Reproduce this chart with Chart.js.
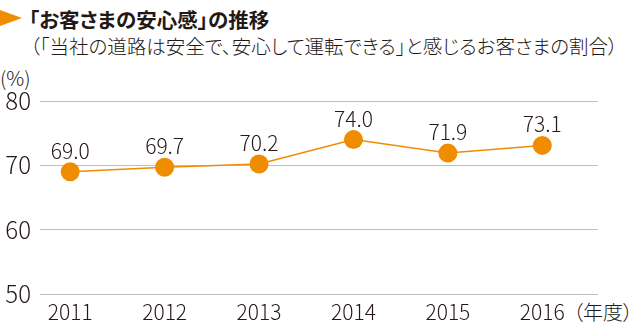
<!DOCTYPE html>
<html lang="ja">
<head>
<meta charset="utf-8">
<script src="https://cdn.jsdelivr.net/npm/chart.js@4/dist/chart.umd.min.js"></script>
<style>
  html,body{margin:0;padding:0;background:#fff;}
  body{width:641px;height:331px;position:relative;overflow:hidden;
       font-family:"Noto Sans CJK JP","Noto Sans",sans-serif;color:#231815;}
  #wrap{position:absolute;left:0;top:0;width:641px;height:331px;}
  .tri{position:absolute;left:0;top:10px;width:0;height:0;
       border-top:8px solid transparent;border-bottom:8px solid transparent;
       border-left:22px solid #f08c00;}
  .title{position:absolute;left:29px;top:4px;font-size:20.5px;font-weight:bold;
         white-space:nowrap;font-feature-settings:"palt";}
  .sub{position:absolute;left:30px;top:31px;font-size:19.5px;white-space:nowrap;
       font-weight:300;font-feature-settings:"palt";}
  .unit{position:absolute;left:0;top:63px;font-size:20px;font-weight:300;}
  .year{position:absolute;left:573px;top:297px;font-size:20px;white-space:nowrap;
        font-feature-settings:"palt";font-weight:300;}
</style>
</head>
<body>
<div class="tri"></div>
<div class="title">「お客さまの安心感」の推移</div>
<div class="sub">（「当社の道路は安全で、安心して運転できる」と感じるお客さまの割合）</div>
<div class="unit">(%)</div>
<div class="year">（年度）</div>
<div id="wrap"><canvas id="c" width="641" height="331"></canvas></div>
<script>
// 年度と安心感の割合(%)
const years = [2011, 2012, 2013, 2014, 2015, 2016];
const ratio = [69.0, 69.7, 70.2, 74.0, 71.9, 73.1];
const yTicks = [50, 60, 70, 80];

const orange = '#f08c00';
const font = '"Noto Sans CJK JP","Noto Sans",sans-serif';

// 各点の上に値を書く
const valueLabels = {
  id: 'valueLabels',
  afterDatasetsDraw(chart){
    const ctx = chart.ctx;
    const meta = chart.getDatasetMeta(0);
    ctx.save();
    ctx.font = '300 21px ' + font;
    ctx.fillStyle = '#231815';
    ctx.textAlign = 'center';
    ctx.textBaseline = 'alphabetic';
    meta.data.forEach((pt, i) => {
      ctx.fillText(ratio[i].toFixed(1), pt.x, pt.y - 13);
    });
    ctx.restore();
  }
};

new Chart(document.getElementById('c'), {
  type: 'line',
  data: {
    datasets: [{
      data: years.map((y, i) => ({x: y, y: ratio[i]})),
      borderColor: orange,
      borderWidth: 1.5,
      backgroundColor: orange,
      pointRadius: 9.5,
      pointBorderWidth: 0,
      pointBackgroundColor: orange,
      tension: 0
    }]
  },
  options: {
    responsive: false,
    animation: false,
    events: [],
    layout: {padding: {top: 101, right: 43, left: 0, bottom: 0}},
    plugins: {legend: {display: false}, tooltip: {enabled: false}},
    scales: {
      x: {
        type: 'linear',
        min: 2010.68,
        max: 2016.59,
        afterBuildTicks: s => { s.ticks = years.map(v => ({value: v})); },
        afterFit: s => { s.height = 37; },
        grid: {display: false, drawTicks: false},
        border: {display: false},
        ticks: {
          padding: 5,
          color: '#231815',
          font: {family: font, size: 21, weight: '300'},
          callback: v => String(v)
        }
      },
      y: {
        min: 50,
        max: 80,
        afterBuildTicks: s => { s.ticks = yTicks.map(v => ({value: v})); },
        afterFit: s => { s.width = 40; },
        grid: {color: '#bfbfbf', lineWidth: 1, drawTicks: false},
        border: {display: false},
        ticks: {
          padding: 9,
          color: '#231815',
          font: {family: font, size: 24, weight: '300'}
        }
      }
    }
  },
  plugins: [valueLabels]
});
</script>
</body>
</html>
